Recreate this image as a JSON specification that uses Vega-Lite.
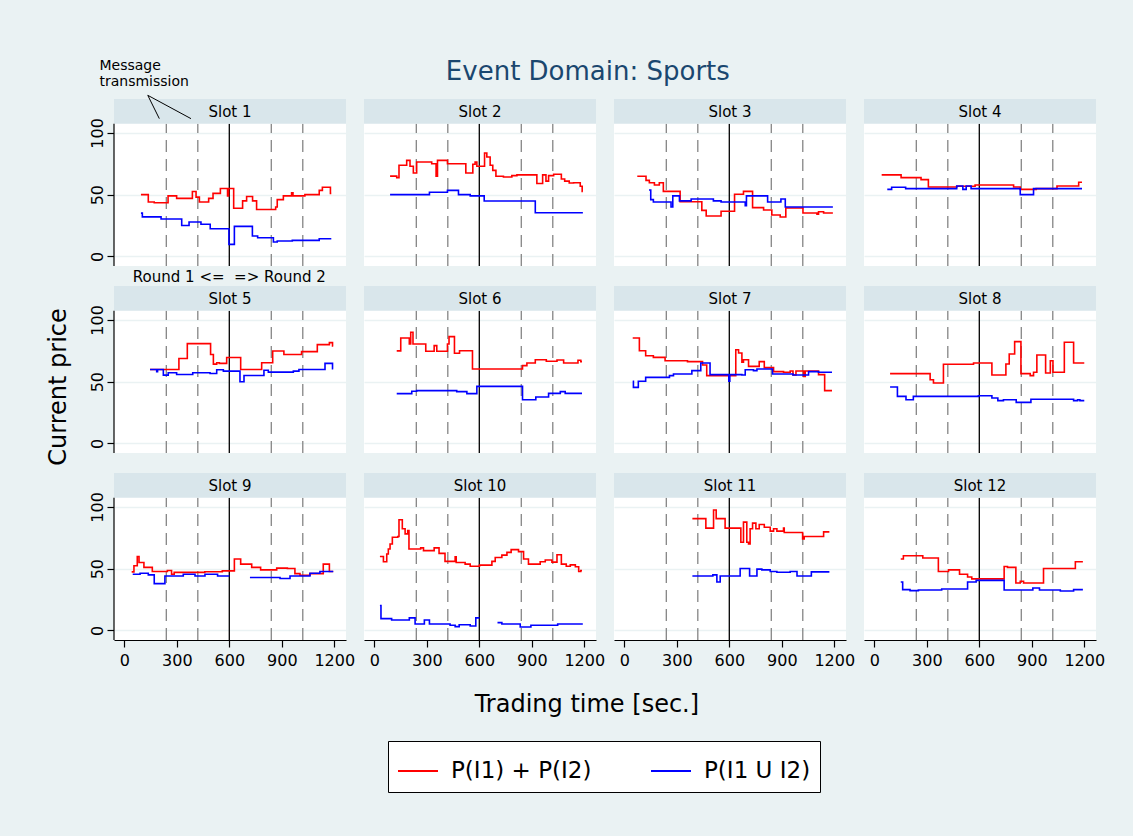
{
  "$schema": "https://vega.github.io/schema/vega-lite/v6.json",
  "background": "#EAF2F3",
  "padding": {"left": 47, "top": 58, "right": 40, "bottom": 48},
  "bounds": "flush",
  "title": {"text": "Event Domain: Sports", "fontSize": 26, "font": "DejaVu Sans", "fontWeight": "normal", "color": "#1A476F", "anchor": "middle", "offset": -26, "dx": 12},
  "data": {"values": [
    {"slot":1,"vx":240,"kind":"msg"},{"slot":1,"vx":420,"kind":"msg"},{"slot":1,"vx":840,"kind":"msg"},{"slot":1,"vx":1020,"kind":"msg"},{"slot":1,"vx":600,"kind":"round"},
    {"slot":2,"vx":240,"kind":"msg"},{"slot":2,"vx":420,"kind":"msg"},{"slot":2,"vx":840,"kind":"msg"},{"slot":2,"vx":1020,"kind":"msg"},{"slot":2,"vx":600,"kind":"round"},
    {"slot":3,"vx":240,"kind":"msg"},{"slot":3,"vx":420,"kind":"msg"},{"slot":3,"vx":840,"kind":"msg"},{"slot":3,"vx":1020,"kind":"msg"},{"slot":3,"vx":600,"kind":"round"},
    {"slot":4,"vx":240,"kind":"msg"},{"slot":4,"vx":420,"kind":"msg"},{"slot":4,"vx":840,"kind":"msg"},{"slot":4,"vx":1020,"kind":"msg"},{"slot":4,"vx":600,"kind":"round"},
    {"slot":5,"vx":240,"kind":"msg"},{"slot":5,"vx":420,"kind":"msg"},{"slot":5,"vx":840,"kind":"msg"},{"slot":5,"vx":1020,"kind":"msg"},{"slot":5,"vx":600,"kind":"round"},
    {"slot":6,"vx":240,"kind":"msg"},{"slot":6,"vx":420,"kind":"msg"},{"slot":6,"vx":840,"kind":"msg"},{"slot":6,"vx":1020,"kind":"msg"},{"slot":6,"vx":600,"kind":"round"},
    {"slot":7,"vx":240,"kind":"msg"},{"slot":7,"vx":420,"kind":"msg"},{"slot":7,"vx":840,"kind":"msg"},{"slot":7,"vx":1020,"kind":"msg"},{"slot":7,"vx":600,"kind":"round"},
    {"slot":8,"vx":240,"kind":"msg"},{"slot":8,"vx":420,"kind":"msg"},{"slot":8,"vx":840,"kind":"msg"},{"slot":8,"vx":1020,"kind":"msg"},{"slot":8,"vx":600,"kind":"round"},
    {"slot":9,"vx":240,"kind":"msg"},{"slot":9,"vx":420,"kind":"msg"},{"slot":9,"vx":840,"kind":"msg"},{"slot":9,"vx":1020,"kind":"msg"},{"slot":9,"vx":600,"kind":"round"},
    {"slot":10,"vx":240,"kind":"msg"},{"slot":10,"vx":420,"kind":"msg"},{"slot":10,"vx":840,"kind":"msg"},{"slot":10,"vx":1020,"kind":"msg"},{"slot":10,"vx":600,"kind":"round"},
    {"slot":11,"vx":240,"kind":"msg"},{"slot":11,"vx":420,"kind":"msg"},{"slot":11,"vx":840,"kind":"msg"},{"slot":11,"vx":1020,"kind":"msg"},{"slot":11,"vx":600,"kind":"round"},
    {"slot":12,"vx":240,"kind":"msg"},{"slot":12,"vx":420,"kind":"msg"},{"slot":12,"vx":840,"kind":"msg"},{"slot":12,"vx":1020,"kind":"msg"},{"slot":12,"vx":600,"kind":"round"},

    {"slot":1,"series":"P(I1) + P(I2)","seg":1,"time":95,"price":50},{"slot":1,"series":"P(I1) + P(I2)","seg":1,"time":137,"price":44},{"slot":1,"series":"P(I1) + P(I2)","seg":1,"time":171,"price":43.5},{"slot":1,"series":"P(I1) + P(I2)","seg":1,"time":250,"price":49},{"slot":1,"series":"P(I1) + P(I2)","seg":1,"time":299,"price":47},{"slot":1,"series":"P(I1) + P(I2)","seg":1,"time":389,"price":52.5},{"slot":1,"series":"P(I1) + P(I2)","seg":1,"time":410,"price":48},{"slot":1,"series":"P(I1) + P(I2)","seg":1,"time":429,"price":44},{"slot":1,"series":"P(I1) + P(I2)","seg":1,"time":482,"price":47},{"slot":1,"series":"P(I1) + P(I2)","seg":1,"time":507,"price":51},{"slot":1,"series":"P(I1) + P(I2)","seg":1,"time":549,"price":55},{"slot":1,"series":"P(I1) + P(I2)","seg":1,"time":590,"price":49},{"slot":1,"series":"P(I1) + P(I2)","seg":1,"time":596,"price":55},{"slot":1,"series":"P(I1) + P(I2)","seg":1,"time":625,"price":39},{"slot":1,"series":"P(I1) + P(I2)","seg":1,"time":676,"price":45},{"slot":1,"series":"P(I1) + P(I2)","seg":1,"time":699,"price":48.5},{"slot":1,"series":"P(I1) + P(I2)","seg":1,"time":733,"price":45},{"slot":1,"series":"P(I1) + P(I2)","seg":1,"time":756,"price":38},{"slot":1,"series":"P(I1) + P(I2)","seg":1,"time":865,"price":40},{"slot":1,"series":"P(I1) + P(I2)","seg":1,"time":874,"price":46},{"slot":1,"series":"P(I1) + P(I2)","seg":1,"time":909,"price":49},{"slot":1,"series":"P(I1) + P(I2)","seg":1,"time":956,"price":51.5},{"slot":1,"series":"P(I1) + P(I2)","seg":1,"time":964,"price":49},{"slot":1,"series":"P(I1) + P(I2)","seg":1,"time":1032,"price":50},{"slot":1,"series":"P(I1) + P(I2)","seg":1,"time":1114,"price":53.5},{"slot":1,"series":"P(I1) + P(I2)","seg":1,"time":1132,"price":56},{"slot":1,"series":"P(I1) + P(I2)","seg":1,"time":1178,"price":51},{"slot":1,"series":"P(I1) + P(I2)","seg":1,"time":1183,"price":51},
    {"slot":1,"series":"P(I1 U I2)","seg":1,"time":95,"price":35},{"slot":1,"series":"P(I1 U I2)","seg":1,"time":103,"price":32},{"slot":1,"series":"P(I1 U I2)","seg":1,"time":210,"price":30.3},{"slot":1,"series":"P(I1 U I2)","seg":1,"time":328,"price":25},{"slot":1,"series":"P(I1 U I2)","seg":1,"time":370,"price":27.8},{"slot":1,"series":"P(I1 U I2)","seg":1,"time":438,"price":26},{"slot":1,"series":"P(I1 U I2)","seg":1,"time":491,"price":22.4},{"slot":1,"series":"P(I1 U I2)","seg":1,"time":598,"price":9.7},{"slot":1,"series":"P(I1 U I2)","seg":1,"time":629,"price":24.3},{"slot":1,"series":"P(I1 U I2)","seg":1,"time":732,"price":16.5},{"slot":1,"series":"P(I1 U I2)","seg":1,"time":762,"price":15.1},{"slot":1,"series":"P(I1 U I2)","seg":1,"time":852,"price":11.6},{"slot":1,"series":"P(I1 U I2)","seg":1,"time":874,"price":12.4},{"slot":1,"series":"P(I1 U I2)","seg":1,"time":960,"price":13},{"slot":1,"series":"P(I1 U I2)","seg":1,"time":1114,"price":14.3},{"slot":1,"series":"P(I1 U I2)","seg":1,"time":1183,"price":14.3},

    {"slot":2,"series":"P(I1) + P(I2)","seg":1,"time":90,"price":65},{"slot":2,"series":"P(I1) + P(I2)","seg":1,"time":128,"price":63.8},{"slot":2,"series":"P(I1) + P(I2)","seg":1,"time":141,"price":73.8},{"slot":2,"series":"P(I1) + P(I2)","seg":1,"time":185,"price":77.8},{"slot":2,"series":"P(I1) + P(I2)","seg":1,"time":204,"price":73},{"slot":2,"series":"P(I1) + P(I2)","seg":1,"time":223,"price":67.6},{"slot":2,"series":"P(I1) + P(I2)","seg":1,"time":242,"price":76.5},{"slot":2,"series":"P(I1) + P(I2)","seg":1,"time":328,"price":75},{"slot":2,"series":"P(I1) + P(I2)","seg":1,"time":353,"price":65},{"slot":2,"series":"P(I1) + P(I2)","seg":1,"time":361,"price":77.8},{"slot":2,"series":"P(I1) + P(I2)","seg":1,"time":418,"price":75.1},{"slot":2,"series":"P(I1) + P(I2)","seg":1,"time":523,"price":67.6},{"slot":2,"series":"P(I1) + P(I2)","seg":1,"time":563,"price":74.6},{"slot":2,"series":"P(I1) + P(I2)","seg":1,"time":576,"price":76.5},{"slot":2,"series":"P(I1) + P(I2)","seg":1,"time":586,"price":73},{"slot":2,"series":"P(I1) + P(I2)","seg":1,"time":630,"price":83.8},{"slot":2,"series":"P(I1) + P(I2)","seg":1,"time":643,"price":80.5},{"slot":2,"series":"P(I1) + P(I2)","seg":1,"time":662,"price":73.8},{"slot":2,"series":"P(I1) + P(I2)","seg":1,"time":677,"price":69.7},{"slot":2,"series":"P(I1) + P(I2)","seg":1,"time":695,"price":64.9},{"slot":2,"series":"P(I1) + P(I2)","seg":1,"time":738,"price":64.3},{"slot":2,"series":"P(I1) + P(I2)","seg":1,"time":786,"price":65.4},{"slot":2,"series":"P(I1) + P(I2)","seg":1,"time":815,"price":66},{"slot":2,"series":"P(I1) + P(I2)","seg":1,"time":929,"price":59},{"slot":2,"series":"P(I1) + P(I2)","seg":1,"time":962,"price":66},{"slot":2,"series":"P(I1) + P(I2)","seg":1,"time":981,"price":61},{"slot":2,"series":"P(I1) + P(I2)","seg":1,"time":996,"price":65.4},{"slot":2,"series":"P(I1) + P(I2)","seg":1,"time":1025,"price":66.5},{"slot":2,"series":"P(I1) + P(I2)","seg":1,"time":1069,"price":62.7},{"slot":2,"series":"P(I1) + P(I2)","seg":1,"time":1088,"price":61},{"slot":2,"series":"P(I1) + P(I2)","seg":1,"time":1114,"price":59.5},{"slot":2,"series":"P(I1) + P(I2)","seg":1,"time":1139,"price":59.7},{"slot":2,"series":"P(I1) + P(I2)","seg":1,"time":1177,"price":56.8},{"slot":2,"series":"P(I1) + P(I2)","seg":1,"time":1188,"price":52.7},{"slot":2,"series":"P(I1) + P(I2)","seg":1,"time":1192,"price":52.7},
    {"slot":2,"series":"P(I1 U I2)","seg":1,"time":90,"price":50},{"slot":2,"series":"P(I1 U I2)","seg":1,"time":315,"price":51.9},{"slot":2,"series":"P(I1 U I2)","seg":1,"time":418,"price":53.5},{"slot":2,"series":"P(I1 U I2)","seg":1,"time":481,"price":50},{"slot":2,"series":"P(I1 U I2)","seg":1,"time":548,"price":49},{"slot":2,"series":"P(I1 U I2)","seg":1,"time":628,"price":44.9},{"slot":2,"series":"P(I1 U I2)","seg":1,"time":920,"price":35.4},{"slot":2,"series":"P(I1 U I2)","seg":1,"time":1192,"price":35.4},

    {"slot":3,"series":"P(I1) + P(I2)","seg":1,"time":74,"price":64.9},{"slot":3,"series":"P(I1) + P(I2)","seg":1,"time":124,"price":61.6},{"slot":3,"series":"P(I1) + P(I2)","seg":1,"time":143,"price":59.7},{"slot":3,"series":"P(I1) + P(I2)","seg":1,"time":172,"price":57.8},{"slot":3,"series":"P(I1) + P(I2)","seg":1,"time":200,"price":59.7},{"slot":3,"series":"P(I1) + P(I2)","seg":1,"time":223,"price":52.7},{"slot":3,"series":"P(I1) + P(I2)","seg":1,"time":319,"price":44.3},{"slot":3,"series":"P(I1) + P(I2)","seg":1,"time":443,"price":37.3},{"slot":3,"series":"P(I1) + P(I2)","seg":1,"time":468,"price":32.7},{"slot":3,"series":"P(I1) + P(I2)","seg":1,"time":553,"price":36.5},{"slot":3,"series":"P(I1) + P(I2)","seg":1,"time":630,"price":50.3},{"slot":3,"series":"P(I1) + P(I2)","seg":1,"time":681,"price":52.7},{"slot":3,"series":"P(I1) + P(I2)","seg":1,"time":733,"price":39.5},{"slot":3,"series":"P(I1) + P(I2)","seg":1,"time":796,"price":37.6},{"slot":3,"series":"P(I1) + P(I2)","seg":1,"time":843,"price":33.5},{"slot":3,"series":"P(I1) + P(I2)","seg":1,"time":891,"price":31.9},{"slot":3,"series":"P(I1) + P(I2)","seg":1,"time":923,"price":39.2},{"slot":3,"series":"P(I1) + P(I2)","seg":1,"time":1021,"price":35.1},{"slot":3,"series":"P(I1) + P(I2)","seg":1,"time":1101,"price":34.1},{"slot":3,"series":"P(I1) + P(I2)","seg":1,"time":1110,"price":36.2},{"slot":3,"series":"P(I1) + P(I2)","seg":1,"time":1139,"price":35.1},{"slot":3,"series":"P(I1) + P(I2)","seg":1,"time":1192,"price":35.1},
    {"slot":3,"series":"P(I1 U I2)","seg":1,"time":141,"price":53.8},{"slot":3,"series":"P(I1 U I2)","seg":1,"time":151,"price":46},{"slot":3,"series":"P(I1 U I2)","seg":1,"time":166,"price":44},{"slot":3,"series":"P(I1 U I2)","seg":1,"time":267,"price":40},{"slot":3,"series":"P(I1 U I2)","seg":1,"time":277,"price":49},{"slot":3,"series":"P(I1 U I2)","seg":1,"time":315,"price":45},{"slot":3,"series":"P(I1 U I2)","seg":1,"time":382,"price":46.5},{"slot":3,"series":"P(I1 U I2)","seg":1,"time":509,"price":45},{"slot":3,"series":"P(I1 U I2)","seg":1,"time":553,"price":44},{"slot":3,"series":"P(I1 U I2)","seg":1,"time":691,"price":41},{"slot":3,"series":"P(I1 U I2)","seg":1,"time":698,"price":49},{"slot":3,"series":"P(I1 U I2)","seg":1,"time":819,"price":44},{"slot":3,"series":"P(I1 U I2)","seg":1,"time":895,"price":46.5},{"slot":3,"series":"P(I1 U I2)","seg":1,"time":920,"price":40},{"slot":3,"series":"P(I1 U I2)","seg":1,"time":1192,"price":40},

    {"slot":4,"series":"P(I1) + P(I2)","seg":1,"time":42,"price":66},{"slot":4,"series":"P(I1) + P(I2)","seg":1,"time":153,"price":63.8},{"slot":4,"series":"P(I1) + P(I2)","seg":1,"time":267,"price":62.2},{"slot":4,"series":"P(I1) + P(I2)","seg":1,"time":309,"price":56.2},{"slot":4,"series":"P(I1) + P(I2)","seg":1,"time":471,"price":56.8},{"slot":4,"series":"P(I1) + P(I2)","seg":1,"time":576,"price":57.8},{"slot":4,"series":"P(I1) + P(I2)","seg":1,"time":796,"price":56.2},{"slot":4,"series":"P(I1) + P(I2)","seg":1,"time":834,"price":54.3},{"slot":4,"series":"P(I1) + P(I2)","seg":1,"time":925,"price":54.9},{"slot":4,"series":"P(I1) + P(I2)","seg":1,"time":1044,"price":57},{"slot":4,"series":"P(I1) + P(I2)","seg":1,"time":1168,"price":60},{"slot":4,"series":"P(I1) + P(I2)","seg":1,"time":1187,"price":60},
    {"slot":4,"series":"P(I1 U I2)","seg":1,"time":74,"price":54.3},{"slot":4,"series":"P(I1 U I2)","seg":1,"time":99,"price":56},{"slot":4,"series":"P(I1 U I2)","seg":1,"time":179,"price":54.9},{"slot":4,"series":"P(I1 U I2)","seg":1,"time":471,"price":57},{"slot":4,"series":"P(I1 U I2)","seg":1,"time":506,"price":54.3},{"slot":4,"series":"P(I1 U I2)","seg":1,"time":525,"price":57},{"slot":4,"series":"P(I1 U I2)","seg":1,"time":553,"price":54.9},{"slot":4,"series":"P(I1 U I2)","seg":1,"time":834,"price":50},{"slot":4,"series":"P(I1 U I2)","seg":1,"time":910,"price":54.9},{"slot":4,"series":"P(I1 U I2)","seg":1,"time":1187,"price":54.9},

    {"slot":5,"series":"P(I1) + P(I2)","seg":1,"time":147,"price":59.9},{"slot":5,"series":"P(I1) + P(I2)","seg":1,"time":312,"price":68.8},{"slot":5,"series":"P(I1) + P(I2)","seg":1,"time":360,"price":80.8},{"slot":5,"series":"P(I1) + P(I2)","seg":1,"time":493,"price":72},{"slot":5,"series":"P(I1) + P(I2)","seg":1,"time":509,"price":64.2},{"slot":5,"series":"P(I1) + P(I2)","seg":1,"time":528,"price":65.3},{"slot":5,"series":"P(I1) + P(I2)","seg":1,"time":543,"price":64.8},{"slot":5,"series":"P(I1) + P(I2)","seg":1,"time":585,"price":69.6},{"slot":5,"series":"P(I1) + P(I2)","seg":1,"time":665,"price":59.9},{"slot":5,"series":"P(I1) + P(I2)","seg":1,"time":785,"price":65.3},{"slot":5,"series":"P(I1) + P(I2)","seg":1,"time":848,"price":74.8},{"slot":5,"series":"P(I1) + P(I2)","seg":1,"time":912,"price":72},{"slot":5,"series":"P(I1) + P(I2)","seg":1,"time":1013,"price":74.3},{"slot":5,"series":"P(I1) + P(I2)","seg":1,"time":1103,"price":80},{"slot":5,"series":"P(I1) + P(I2)","seg":1,"time":1172,"price":81.6},{"slot":5,"series":"P(I1) + P(I2)","seg":1,"time":1190,"price":78.9},{"slot":5,"series":"P(I1) + P(I2)","seg":1,"time":1194,"price":78.9},
    {"slot":5,"series":"P(I1 U I2)","seg":1,"time":147,"price":59.9},{"slot":5,"series":"P(I1 U I2)","seg":1,"time":185,"price":58},{"slot":5,"series":"P(I1 U I2)","seg":1,"time":190,"price":59.9},{"slot":5,"series":"P(I1 U I2)","seg":1,"time":223,"price":55.3},{"slot":5,"series":"P(I1 U I2)","seg":1,"time":251,"price":57.2},{"slot":5,"series":"P(I1 U I2)","seg":1,"time":299,"price":55.8},{"slot":5,"series":"P(I1 U I2)","seg":1,"time":391,"price":57.2},{"slot":5,"series":"P(I1 U I2)","seg":1,"time":490,"price":56.6},{"slot":5,"series":"P(I1 U I2)","seg":1,"time":528,"price":59.6},{"slot":5,"series":"P(I1 U I2)","seg":1,"time":566,"price":58.5},{"slot":5,"series":"P(I1 U I2)","seg":1,"time":661,"price":49.9},{"slot":5,"series":"P(I1 U I2)","seg":1,"time":684,"price":55},{"slot":5,"series":"P(I1 U I2)","seg":1,"time":798,"price":59.3},{"slot":5,"series":"P(I1 U I2)","seg":1,"time":823,"price":57.7},{"slot":5,"series":"P(I1 U I2)","seg":1,"time":966,"price":58.5},{"slot":5,"series":"P(I1 U I2)","seg":1,"time":998,"price":59.9},{"slot":5,"series":"P(I1 U I2)","seg":1,"time":1147,"price":64.8},{"slot":5,"series":"P(I1 U I2)","seg":1,"time":1190,"price":60.4},{"slot":5,"series":"P(I1 U I2)","seg":1,"time":1194,"price":60.4},

    {"slot":6,"series":"P(I1) + P(I2)","seg":1,"time":128,"price":74.9},{"slot":6,"series":"P(I1) + P(I2)","seg":1,"time":151,"price":85.4},{"slot":6,"series":"P(I1) + P(I2)","seg":1,"time":200,"price":80.5},{"slot":6,"series":"P(I1) + P(I2)","seg":1,"time":208,"price":90},{"slot":6,"series":"P(I1) + P(I2)","seg":1,"time":221,"price":80.5},{"slot":6,"series":"P(I1) + P(I2)","seg":1,"time":294,"price":74.6},{"slot":6,"series":"P(I1) + P(I2)","seg":1,"time":342,"price":79.2},{"slot":6,"series":"P(I1) + P(I2)","seg":1,"time":357,"price":74.6},{"slot":6,"series":"P(I1) + P(I2)","seg":1,"time":418,"price":80.5},{"slot":6,"series":"P(I1) + P(I2)","seg":1,"time":427,"price":86.5},{"slot":6,"series":"P(I1) + P(I2)","seg":1,"time":458,"price":73},{"slot":6,"series":"P(I1) + P(I2)","seg":1,"time":487,"price":75.1},{"slot":6,"series":"P(I1) + P(I2)","seg":1,"time":561,"price":60.3},{"slot":6,"series":"P(I1) + P(I2)","seg":1,"time":847,"price":63},{"slot":6,"series":"P(I1) + P(I2)","seg":1,"time":872,"price":65.1},{"slot":6,"series":"P(I1) + P(I2)","seg":1,"time":920,"price":67.8},{"slot":6,"series":"P(I1) + P(I2)","seg":1,"time":983,"price":66.5},{"slot":6,"series":"P(I1) + P(I2)","seg":1,"time":1044,"price":67.6},{"slot":6,"series":"P(I1) + P(I2)","seg":1,"time":1082,"price":65.1},{"slot":6,"series":"P(I1) + P(I2)","seg":1,"time":1164,"price":67.3},{"slot":6,"series":"P(I1) + P(I2)","seg":1,"time":1180,"price":66.2},{"slot":6,"series":"P(I1) + P(I2)","seg":1,"time":1187,"price":66.2},
    {"slot":6,"series":"P(I1 U I2)","seg":1,"time":128,"price":40.3},{"slot":6,"series":"P(I1 U I2)","seg":1,"time":214,"price":42.2},{"slot":6,"series":"P(I1 U I2)","seg":1,"time":242,"price":42.7},{"slot":6,"series":"P(I1 U I2)","seg":1,"time":471,"price":41.9},{"slot":6,"series":"P(I1 U I2)","seg":1,"time":529,"price":40.3},{"slot":6,"series":"P(I1 U I2)","seg":1,"time":586,"price":46.2},{"slot":6,"series":"P(I1 U I2)","seg":1,"time":847,"price":35.4},{"slot":6,"series":"P(I1 U I2)","seg":1,"time":923,"price":37.6},{"slot":6,"series":"P(I1 U I2)","seg":1,"time":996,"price":40.5},{"slot":6,"series":"P(I1 U I2)","seg":1,"time":1063,"price":41.9},{"slot":6,"series":"P(I1 U I2)","seg":1,"time":1091,"price":40.5},{"slot":6,"series":"P(I1 U I2)","seg":1,"time":1187,"price":40.5},

    {"slot":7,"series":"P(I1) + P(I2)","seg":1,"time":48,"price":85.4},{"slot":7,"series":"P(I1) + P(I2)","seg":1,"time":86,"price":75.1},{"slot":7,"series":"P(I1) + P(I2)","seg":1,"time":122,"price":71},{"slot":7,"series":"P(I1) + P(I2)","seg":1,"time":166,"price":69.7},{"slot":7,"series":"P(I1) + P(I2)","seg":1,"time":233,"price":67},{"slot":7,"series":"P(I1) + P(I2)","seg":1,"time":361,"price":66.2},{"slot":7,"series":"P(I1) + P(I2)","seg":1,"time":447,"price":63.5},{"slot":7,"series":"P(I1) + P(I2)","seg":1,"time":471,"price":54.9},{"slot":7,"series":"P(I1) + P(I2)","seg":1,"time":637,"price":75.9},{"slot":7,"series":"P(I1) + P(I2)","seg":1,"time":653,"price":73.2},{"slot":7,"series":"P(I1) + P(I2)","seg":1,"time":672,"price":65.7},{"slot":7,"series":"P(I1) + P(I2)","seg":1,"time":681,"price":67.8},{"slot":7,"series":"P(I1) + P(I2)","seg":1,"time":710,"price":62.4},{"slot":7,"series":"P(I1) + P(I2)","seg":1,"time":771,"price":66.2},{"slot":7,"series":"P(I1) + P(I2)","seg":1,"time":800,"price":61.4},{"slot":7,"series":"P(I1) + P(I2)","seg":1,"time":853,"price":58.1},{"slot":7,"series":"P(I1) + P(I2)","seg":1,"time":910,"price":57.6},{"slot":7,"series":"P(I1) + P(I2)","seg":1,"time":948,"price":58.6},{"slot":7,"series":"P(I1) + P(I2)","seg":1,"time":964,"price":55.4},{"slot":7,"series":"P(I1) + P(I2)","seg":1,"time":981,"price":58.6},{"slot":7,"series":"P(I1) + P(I2)","seg":1,"time":1025,"price":54.3},{"slot":7,"series":"P(I1) + P(I2)","seg":1,"time":1034,"price":58.6},{"slot":7,"series":"P(I1) + P(I2)","seg":1,"time":1110,"price":55.7},{"slot":7,"series":"P(I1) + P(I2)","seg":1,"time":1145,"price":42.7},{"slot":7,"series":"P(I1) + P(I2)","seg":1,"time":1187,"price":42.7},
    {"slot":7,"series":"P(I1 U I2)","seg":1,"time":48,"price":50.3},{"slot":7,"series":"P(I1 U I2)","seg":1,"time":52,"price":45.4},{"slot":7,"series":"P(I1 U I2)","seg":1,"time":80,"price":50.3},{"slot":7,"series":"P(I1 U I2)","seg":1,"time":122,"price":53.5},{"slot":7,"series":"P(I1 U I2)","seg":1,"time":258,"price":54.9},{"slot":7,"series":"P(I1 U I2)","seg":1,"time":281,"price":56.2},{"slot":7,"series":"P(I1 U I2)","seg":1,"time":386,"price":58.9},{"slot":7,"series":"P(I1 U I2)","seg":1,"time":437,"price":65.1},{"slot":7,"series":"P(I1 U I2)","seg":1,"time":490,"price":55.7},{"slot":7,"series":"P(I1 U I2)","seg":1,"time":597,"price":50.3},{"slot":7,"series":"P(I1 U I2)","seg":1,"time":603,"price":55.7},{"slot":7,"series":"P(I1 U I2)","seg":1,"time":672,"price":55.4},{"slot":7,"series":"P(I1 U I2)","seg":1,"time":691,"price":59.7},{"slot":7,"series":"P(I1 U I2)","seg":1,"time":738,"price":58.9},{"slot":7,"series":"P(I1 U I2)","seg":1,"time":758,"price":60.3},{"slot":7,"series":"P(I1 U I2)","seg":1,"time":847,"price":56.2},{"slot":7,"series":"P(I1 U I2)","seg":1,"time":964,"price":55.4},{"slot":7,"series":"P(I1 U I2)","seg":1,"time":1053,"price":58.1},{"slot":7,"series":"P(I1 U I2)","seg":1,"time":1110,"price":57.6},{"slot":7,"series":"P(I1 U I2)","seg":1,"time":1187,"price":57.6},

    {"slot":8,"series":"P(I1) + P(I2)","seg":1,"time":90,"price":56.5},{"slot":8,"series":"P(I1) + P(I2)","seg":1,"time":319,"price":51.6},{"slot":8,"series":"P(I1) + P(I2)","seg":1,"time":338,"price":48.9},{"slot":8,"series":"P(I1) + P(I2)","seg":1,"time":395,"price":64.1},{"slot":8,"series":"P(I1) + P(I2)","seg":1,"time":567,"price":65.1},{"slot":8,"series":"P(I1) + P(I2)","seg":1,"time":672,"price":55.4},{"slot":8,"series":"P(I1) + P(I2)","seg":1,"time":752,"price":64.3},{"slot":8,"series":"P(I1) + P(I2)","seg":1,"time":771,"price":72.4},{"slot":8,"series":"P(I1) + P(I2)","seg":1,"time":802,"price":82.4},{"slot":8,"series":"P(I1) + P(I2)","seg":1,"time":838,"price":56.5},{"slot":8,"series":"P(I1) + P(I2)","seg":1,"time":891,"price":54.9},{"slot":8,"series":"P(I1) + P(I2)","seg":1,"time":910,"price":57.6},{"slot":8,"series":"P(I1) + P(I2)","seg":1,"time":929,"price":71.6},{"slot":8,"series":"P(I1) + P(I2)","seg":1,"time":979,"price":57},{"slot":8,"series":"P(I1) + P(I2)","seg":1,"time":1006,"price":67},{"slot":8,"series":"P(I1) + P(I2)","seg":1,"time":1021,"price":57.6},{"slot":8,"series":"P(I1) + P(I2)","seg":1,"time":1086,"price":81.9},{"slot":8,"series":"P(I1) + P(I2)","seg":1,"time":1139,"price":65.1},{"slot":8,"series":"P(I1) + P(I2)","seg":1,"time":1200,"price":65.1},
    {"slot":8,"series":"P(I1 U I2)","seg":1,"time":90,"price":45.7},{"slot":8,"series":"P(I1 U I2)","seg":1,"time":132,"price":38.1},{"slot":8,"series":"P(I1 U I2)","seg":1,"time":181,"price":35.4},{"slot":8,"series":"P(I1 U I2)","seg":1,"time":223,"price":38.1},{"slot":8,"series":"P(I1 U I2)","seg":1,"time":595,"price":38.6},{"slot":8,"series":"P(I1 U I2)","seg":1,"time":672,"price":36.8},{"slot":8,"series":"P(I1 U I2)","seg":1,"time":706,"price":34.6},{"slot":8,"series":"P(I1 U I2)","seg":1,"time":738,"price":35.4},{"slot":8,"series":"P(I1 U I2)","seg":1,"time":811,"price":33.2},{"slot":8,"series":"P(I1 U I2)","seg":1,"time":895,"price":35.7},{"slot":8,"series":"P(I1 U I2)","seg":1,"time":1139,"price":34.6},{"slot":8,"series":"P(I1 U I2)","seg":1,"time":1162,"price":35.4},{"slot":8,"series":"P(I1 U I2)","seg":1,"time":1175,"price":34.6},{"slot":8,"series":"P(I1 U I2)","seg":1,"time":1200,"price":34.6},

    {"slot":9,"series":"P(I1) + P(I2)","seg":1,"time":42,"price":47.4},{"slot":9,"series":"P(I1) + P(I2)","seg":1,"time":55,"price":52.3},{"slot":9,"series":"P(I1) + P(I2)","seg":1,"time":74,"price":59.9},{"slot":9,"series":"P(I1) + P(I2)","seg":1,"time":84,"price":55},{"slot":9,"series":"P(I1) + P(I2)","seg":1,"time":112,"price":51},{"slot":9,"series":"P(I1) + P(I2)","seg":1,"time":160,"price":47.7},{"slot":9,"series":"P(I1) + P(I2)","seg":1,"time":246,"price":48.5},{"slot":9,"series":"P(I1) + P(I2)","seg":1,"time":270,"price":45.5},{"slot":9,"series":"P(I1) + P(I2)","seg":1,"time":285,"price":47},{"slot":9,"series":"P(I1) + P(I2)","seg":1,"time":460,"price":47.5},{"slot":9,"series":"P(I1) + P(I2)","seg":1,"time":560,"price":48.2},{"slot":9,"series":"P(I1) + P(I2)","seg":1,"time":629,"price":57.8},{"slot":9,"series":"P(I1) + P(I2)","seg":1,"time":665,"price":53.7},{"slot":9,"series":"P(I1) + P(I2)","seg":1,"time":728,"price":51},{"slot":9,"series":"P(I1) + P(I2)","seg":1,"time":779,"price":49},{"slot":9,"series":"P(I1) + P(I2)","seg":1,"time":871,"price":50.4},{"slot":9,"series":"P(I1) + P(I2)","seg":1,"time":932,"price":50.1},{"slot":9,"series":"P(I1) + P(I2)","seg":1,"time":975,"price":46},{"slot":9,"series":"P(I1) + P(I2)","seg":1,"time":1004,"price":44.7},{"slot":9,"series":"P(I1) + P(I2)","seg":1,"time":1061,"price":46},{"slot":9,"series":"P(I1) + P(I2)","seg":1,"time":1137,"price":53.7},{"slot":9,"series":"P(I1) + P(I2)","seg":1,"time":1172,"price":47.7},{"slot":9,"series":"P(I1) + P(I2)","seg":1,"time":1194,"price":47.7},
    {"slot":9,"series":"P(I1 U I2)","seg":1,"time":48,"price":45.5},{"slot":9,"series":"P(I1 U I2)","seg":1,"time":90,"price":46.3},{"slot":9,"series":"P(I1 U I2)","seg":1,"time":137,"price":45},{"slot":9,"series":"P(I1 U I2)","seg":1,"time":171,"price":37.9},{"slot":9,"series":"P(I1 U I2)","seg":1,"time":232,"price":44.1},{"slot":9,"series":"P(I1 U I2)","seg":1,"time":337,"price":45.5},{"slot":9,"series":"P(I1 U I2)","seg":1,"time":404,"price":44.1},{"slot":9,"series":"P(I1 U I2)","seg":1,"time":461,"price":45.5},{"slot":9,"series":"P(I1 U I2)","seg":1,"time":533,"price":44.1},{"slot":9,"series":"P(I1 U I2)","seg":1,"time":600,"price":44.1},
    {"slot":9,"series":"P(I1 U I2)","seg":2,"time":718,"price":42.8},{"slot":9,"series":"P(I1 U I2)","seg":2,"time":890,"price":42},{"slot":9,"series":"P(I1 U I2)","seg":2,"time":947,"price":44.1},{"slot":9,"series":"P(I1 U I2)","seg":2,"time":1061,"price":46.3},{"slot":9,"series":"P(I1 U I2)","seg":2,"time":1118,"price":47.7},{"slot":9,"series":"P(I1 U I2)","seg":2,"time":1194,"price":47.7},

    {"slot":10,"series":"P(I1) + P(I2)","seg":1,"time":32,"price":59.9},{"slot":10,"series":"P(I1) + P(I2)","seg":1,"time":52,"price":55.6},{"slot":10,"series":"P(I1) + P(I2)","seg":1,"time":71,"price":61.9},{"slot":10,"series":"P(I1) + P(I2)","seg":1,"time":80,"price":65.9},{"slot":10,"series":"P(I1) + P(I2)","seg":1,"time":90,"price":70},{"slot":10,"series":"P(I1) + P(I2)","seg":1,"time":103,"price":75.5},{"slot":10,"series":"P(I1) + P(I2)","seg":1,"time":134,"price":76},{"slot":10,"series":"P(I1) + P(I2)","seg":1,"time":141,"price":89.6},{"slot":10,"series":"P(I1) + P(I2)","seg":1,"time":160,"price":82.3},{"slot":10,"series":"P(I1) + P(I2)","seg":1,"time":176,"price":78.2},{"slot":10,"series":"P(I1) + P(I2)","seg":1,"time":191,"price":80.9},{"slot":10,"series":"P(I1) + P(I2)","seg":1,"time":198,"price":65.9},{"slot":10,"series":"P(I1) + P(I2)","seg":1,"time":265,"price":66.8},{"slot":10,"series":"P(I1) + P(I2)","seg":1,"time":281,"price":64.6},{"slot":10,"series":"P(I1) + P(I2)","seg":1,"time":342,"price":66.8},{"slot":10,"series":"P(I1) + P(I2)","seg":1,"time":370,"price":62.4},{"slot":10,"series":"P(I1) + P(I2)","seg":1,"time":404,"price":55.9},{"slot":10,"series":"P(I1) + P(I2)","seg":1,"time":462,"price":59.7},{"slot":10,"series":"P(I1) + P(I2)","seg":1,"time":468,"price":55},{"slot":10,"series":"P(I1) + P(I2)","seg":1,"time":519,"price":53.7},{"slot":10,"series":"P(I1) + P(I2)","seg":1,"time":548,"price":52},{"slot":10,"series":"P(I1) + P(I2)","seg":1,"time":601,"price":52.9},{"slot":10,"series":"P(I1) + P(I2)","seg":1,"time":672,"price":55.9},{"slot":10,"series":"P(I1) + P(I2)","seg":1,"time":691,"price":59.1},{"slot":10,"series":"P(I1) + P(I2)","seg":1,"time":729,"price":61},{"slot":10,"series":"P(I1) + P(I2)","seg":1,"time":758,"price":63.2},{"slot":10,"series":"P(I1) + P(I2)","seg":1,"time":782,"price":65.4},{"slot":10,"series":"P(I1) + P(I2)","seg":1,"time":824,"price":63.8},{"slot":10,"series":"P(I1) + P(I2)","seg":1,"time":853,"price":57.8},{"slot":10,"series":"P(I1) + P(I2)","seg":1,"time":881,"price":53.7},{"slot":10,"series":"P(I1) + P(I2)","seg":1,"time":948,"price":55.6},{"slot":10,"series":"P(I1) + P(I2)","seg":1,"time":977,"price":57},{"slot":10,"series":"P(I1) + P(I2)","seg":1,"time":1015,"price":55.3},{"slot":10,"series":"P(I1) + P(I2)","seg":1,"time":1044,"price":61.3},{"slot":10,"series":"P(I1) + P(I2)","seg":1,"time":1069,"price":53.7},{"slot":10,"series":"P(I1) + P(I2)","seg":1,"time":1097,"price":52},{"slot":10,"series":"P(I1) + P(I2)","seg":1,"time":1120,"price":53.1},{"slot":10,"series":"P(I1) + P(I2)","seg":1,"time":1149,"price":51.5},{"slot":10,"series":"P(I1) + P(I2)","seg":1,"time":1168,"price":47.7},{"slot":10,"series":"P(I1) + P(I2)","seg":1,"time":1180,"price":48.5},{"slot":10,"series":"P(I1) + P(I2)","seg":1,"time":1187,"price":48.5},
    {"slot":10,"series":"P(I1 U I2)","seg":1,"time":32,"price":20.2},{"slot":10,"series":"P(I1 U I2)","seg":1,"time":38,"price":9.5},{"slot":10,"series":"P(I1 U I2)","seg":1,"time":99,"price":8.4},{"slot":10,"series":"P(I1 U I2)","seg":1,"time":200,"price":10.1},{"slot":10,"series":"P(I1 U I2)","seg":1,"time":233,"price":5.2},{"slot":10,"series":"P(I1 U I2)","seg":1,"time":286,"price":8.4},{"slot":10,"series":"P(I1 U I2)","seg":1,"time":315,"price":5.2},{"slot":10,"series":"P(I1 U I2)","seg":1,"time":433,"price":4.1},{"slot":10,"series":"P(I1 U I2)","seg":1,"time":462,"price":3},{"slot":10,"series":"P(I1 U I2)","seg":1,"time":485,"price":4.6},{"slot":10,"series":"P(I1 U I2)","seg":1,"time":548,"price":3.5},{"slot":10,"series":"P(I1 U I2)","seg":1,"time":580,"price":10.1},{"slot":10,"series":"P(I1 U I2)","seg":1,"time":601,"price":10.1},
    {"slot":10,"series":"P(I1 U I2)","seg":2,"time":704,"price":6.3},{"slot":10,"series":"P(I1 U I2)","seg":2,"time":729,"price":5.2},{"slot":10,"series":"P(I1 U I2)","seg":2,"time":834,"price":2.7},{"slot":10,"series":"P(I1 U I2)","seg":2,"time":895,"price":4.1},{"slot":10,"series":"P(I1 U I2)","seg":2,"time":1048,"price":5.2},{"slot":10,"series":"P(I1 U I2)","seg":2,"time":1187,"price":4.5},

    {"slot":11,"series":"P(I1) + P(I2)","seg":1,"time":389,"price":90.5},{"slot":11,"series":"P(I1) + P(I2)","seg":1,"time":466,"price":82.8},{"slot":11,"series":"P(I1) + P(I2)","seg":1,"time":510,"price":97.5},{"slot":11,"series":"P(I1) + P(I2)","seg":1,"time":525,"price":90.5},{"slot":11,"series":"P(I1) + P(I2)","seg":1,"time":576,"price":82.8},{"slot":11,"series":"P(I1) + P(I2)","seg":1,"time":666,"price":71.4},{"slot":11,"series":"P(I1) + P(I2)","seg":1,"time":681,"price":87.7},{"slot":11,"series":"P(I1) + P(I2)","seg":1,"time":700,"price":71.4},{"slot":11,"series":"P(I1) + P(I2)","seg":1,"time":710,"price":70},{"slot":11,"series":"P(I1) + P(I2)","seg":1,"time":719,"price":82.3},{"slot":11,"series":"P(I1) + P(I2)","seg":1,"time":733,"price":86.9},{"slot":11,"series":"P(I1) + P(I2)","seg":1,"time":752,"price":82.3},{"slot":11,"series":"P(I1) + P(I2)","seg":1,"time":771,"price":85.8},{"slot":11,"series":"P(I1) + P(I2)","seg":1,"time":800,"price":83.6},{"slot":11,"series":"P(I1) + P(I2)","seg":1,"time":834,"price":80.4},{"slot":11,"series":"P(I1) + P(I2)","seg":1,"time":853,"price":82.3},{"slot":11,"series":"P(I1) + P(I2)","seg":1,"time":872,"price":80.4},{"slot":11,"series":"P(I1) + P(I2)","seg":1,"time":910,"price":82.8},{"slot":11,"series":"P(I1) + P(I2)","seg":1,"time":914,"price":79.3},{"slot":11,"series":"P(I1) + P(I2)","seg":1,"time":1019,"price":74.1},{"slot":11,"series":"P(I1) + P(I2)","seg":1,"time":1028,"price":76},{"slot":11,"series":"P(I1) + P(I2)","seg":1,"time":1139,"price":79.8},{"slot":11,"series":"P(I1) + P(I2)","seg":1,"time":1172,"price":79.8},
    {"slot":11,"series":"P(I1 U I2)","seg":1,"time":389,"price":44.1},{"slot":11,"series":"P(I1 U I2)","seg":1,"time":506,"price":45},{"slot":11,"series":"P(I1 U I2)","seg":1,"time":529,"price":39.2},{"slot":11,"series":"P(I1 U I2)","seg":1,"time":548,"price":44.1},{"slot":11,"series":"P(I1 U I2)","seg":1,"time":662,"price":50.1},{"slot":11,"series":"P(I1 U I2)","seg":1,"time":716,"price":44.1},{"slot":11,"series":"P(I1 U I2)","seg":1,"time":758,"price":49.6},{"slot":11,"series":"P(I1 U I2)","seg":1,"time":786,"price":49},{"slot":11,"series":"P(I1 U I2)","seg":1,"time":834,"price":47.7},{"slot":11,"series":"P(I1 U I2)","seg":1,"time":872,"price":47.1},{"slot":11,"series":"P(I1 U I2)","seg":1,"time":948,"price":47.7},{"slot":11,"series":"P(I1 U I2)","seg":1,"time":987,"price":44.1},{"slot":11,"series":"P(I1 U I2)","seg":1,"time":1069,"price":47.4},{"slot":11,"series":"P(I1 U I2)","seg":1,"time":1172,"price":47.4},

    {"slot":12,"series":"P(I1) + P(I2)","seg":1,"time":151,"price":57.8},{"slot":12,"series":"P(I1) + P(I2)","seg":1,"time":166,"price":60.5},{"slot":12,"series":"P(I1) + P(I2)","seg":1,"time":277,"price":58.6},{"slot":12,"series":"P(I1) + P(I2)","seg":1,"time":366,"price":47.7},{"slot":12,"series":"P(I1) + P(I2)","seg":1,"time":424,"price":49},{"slot":12,"series":"P(I1) + P(I2)","seg":1,"time":487,"price":45.5},{"slot":12,"series":"P(I1) + P(I2)","seg":1,"time":533,"price":43.3},{"slot":12,"series":"P(I1) + P(I2)","seg":1,"time":557,"price":41.7},{"slot":12,"series":"P(I1) + P(I2)","seg":1,"time":742,"price":51.8},{"slot":12,"series":"P(I1) + P(I2)","seg":1,"time":761,"price":51},{"slot":12,"series":"P(I1) + P(I2)","seg":1,"time":809,"price":38.4},{"slot":12,"series":"P(I1) + P(I2)","seg":1,"time":834,"price":39.8},{"slot":12,"series":"P(I1) + P(I2)","seg":1,"time":853,"price":38.4},{"slot":12,"series":"P(I1) + P(I2)","seg":1,"time":967,"price":50.1},{"slot":12,"series":"P(I1) + P(I2)","seg":1,"time":1149,"price":55.6},{"slot":12,"series":"P(I1) + P(I2)","seg":1,"time":1192,"price":55.6},
    {"slot":12,"series":"P(I1 U I2)","seg":1,"time":151,"price":39.2},{"slot":12,"series":"P(I1 U I2)","seg":1,"time":162,"price":33},{"slot":12,"series":"P(I1 U I2)","seg":1,"time":204,"price":32.2},{"slot":12,"series":"P(I1 U I2)","seg":1,"time":252,"price":32.7},{"slot":12,"series":"P(I1 U I2)","seg":1,"time":385,"price":33.5},{"slot":12,"series":"P(I1 U I2)","seg":1,"time":533,"price":39.2},{"slot":12,"series":"P(I1 U I2)","seg":1,"time":582,"price":40.5},{"slot":12,"series":"P(I1 U I2)","seg":1,"time":742,"price":32.7},{"slot":12,"series":"P(I1 U I2)","seg":1,"time":906,"price":34.3},{"slot":12,"series":"P(I1 U I2)","seg":1,"time":944,"price":32.7},{"slot":12,"series":"P(I1 U I2)","seg":1,"time":1063,"price":31.9},{"slot":12,"series":"P(I1 U I2)","seg":1,"time":1139,"price":33},{"slot":12,"series":"P(I1 U I2)","seg":1,"time":1192,"price":33}
  ]},
  "transform": [
    {"lookup": "slot", "from": {"data": {"values": [
      {"slot":1,"r":1,"c":1,"name":"Slot 1"},{"slot":2,"r":1,"c":2,"name":"Slot 2"},{"slot":3,"r":1,"c":3,"name":"Slot 3"},{"slot":4,"r":1,"c":4,"name":"Slot 4"},
      {"slot":5,"r":2,"c":1,"name":"Slot 5"},{"slot":6,"r":2,"c":2,"name":"Slot 6"},{"slot":7,"r":2,"c":3,"name":"Slot 7"},{"slot":8,"r":2,"c":4,"name":"Slot 8"},
      {"slot":9,"r":3,"c":1,"name":"Slot 9"},{"slot":10,"r":3,"c":2,"name":"Slot 10"},{"slot":11,"r":3,"c":3,"name":"Slot 11"},{"slot":12,"r":3,"c":4,"name":"Slot 12"}
    ]}, "key": "slot", "fields": ["r", "c", "name"]}}
  ],
  "facet": {
    "row": {"field": "r", "type": "ordinal", "header": {"title": null, "labels": false}},
    "column": {"field": "c", "type": "ordinal", "header": {"title": null, "labels": false}}
  },
  "spacing": {"row": 20, "column": 18},
  "spec": {
    "width": 232,
    "height": 167,
    "layer": [
      {
        "transform": [{"filter": "datum.kind == 'msg'"}],
        "mark": {"type": "rule", "color": "#858585", "strokeWidth": 1.3, "strokeDash": [12, 7]},
        "encoding": {
          "x": {"field": "vx", "type": "quantitative", "scale": {"domain": [-59, 1267], "nice": false, "zero": false}, "axis": {"values": [0, 300, 600, 900, 1200], "format": "d", "title": null, "grid": false}},
          "y": {"datum": -7.8, "type": "quantitative", "scale": {"domain": [-7.8, 127.5], "nice": false, "zero": false}, "axis": {"values": [0, 50, 100], "title": null}},
          "y2": {"datum": 107.5}
        }
      },
      {
        "transform": [{"filter": "datum.kind == 'round'"}],
        "mark": {"type": "rule", "color": "black", "strokeWidth": 1.3},
        "encoding": {
          "x": {"field": "vx", "type": "quantitative"},
          "y": {"datum": -7.8, "type": "quantitative"},
          "y2": {"datum": 107.5}
        }
      },
      {
        "transform": [{"filter": "isValid(datum.price)"}],
        "mark": {"type": "line", "interpolate": "step-after", "strokeWidth": 1.6},
        "encoding": {
          "x": {"field": "time", "type": "quantitative"},
          "y": {"field": "price", "type": "quantitative"},
          "detail": {"field": "seg", "type": "nominal"},
          "color": {"field": "series", "type": "nominal", "scale": {"domain": ["P(I1) + P(I2)", "P(I1 U I2)"], "range": ["#FF0000", "#0000FF"]}, "legend": {"title": null, "orient": "none", "legendX": 274, "legendY": 642}}
        }
      },
      {
        "transform": [{"filter": "datum.kind == 'round'"}],
        "mark": {"type": "rect", "fill": "#D9E6EB"},
        "encoding": {
          "x": {"datum": -59, "type": "quantitative"},
          "x2": {"datum": 1267},
          "y": {"datum": 107.5, "type": "quantitative"},
          "y2": {"datum": 127.5}
        }
      },
      {
        "transform": [{"filter": "datum.kind == 'round'"}],
        "mark": {"type": "text", "fontSize": 15, "color": "black", "baseline": "middle", "align": "center"},
        "encoding": {
          "x": {"datum": 604, "type": "quantitative"},
          "y": {"datum": 117.3, "type": "quantitative"},
          "text": {"field": "name"}
        }
      },
      {
        "transform": [{"filter": "datum.kind == 'round' && datum.c == 1"}],
        "mark": {"type": "rule", "color": "black", "strokeWidth": 1.2, "clip": false},
        "encoding": {
          "x": {"datum": -59, "type": "quantitative"},
          "y": {"datum": -7.8, "type": "quantitative"},
          "y2": {"datum": 107.5}
        }
      },
      {
        "transform": [{"filter": "datum.kind == 'round' && datum.slot == 5"}],
        "mark": {"type": "text", "fontSize": 24, "color": "black", "baseline": "middle", "align": "center", "angle": 270, "clip": false},
        "encoding": {
          "x": {"datum": -373, "type": "quantitative"},
          "y": {"datum": 45.7, "type": "quantitative"},
          "text": {"value": "Current price"}
        }
      },
      {
        "transform": [{"filter": "datum.kind == 'round' && datum.slot == 10"}],
        "mark": {"type": "text", "fontSize": 24, "color": "black", "baseline": "alphabetic", "align": "center", "clip": false},
        "encoding": {
          "x": {"datum": 1215, "type": "quantitative"},
          "y": {"datum": -66.2, "type": "quantitative"},
          "text": {"value": "Trading time [sec.]"}
        }
      },
      {
        "transform": [{"filter": "datum.kind == 'round' && datum.slot == 1"}],
        "mark": {"type": "text", "fontSize": 15, "color": "black", "baseline": "middle", "align": "center", "clip": false},
        "encoding": {
          "x": {"datum": 600, "type": "quantitative"},
          "y": {"datum": -16.5, "type": "quantitative"},
          "text": {"value": "Round 1 <=\u00a0 => Round 2"}
        }
      },
      {
        "transform": [{"filter": "datum.kind == 'round' && datum.slot == 1"}],
        "mark": {"type": "text", "fontSize": 14, "color": "black", "baseline": "alphabetic", "align": "left", "lineHeight": 16, "clip": false},
        "encoding": {
          "x": {"datum": -142, "type": "quantitative"},
          "y": {"datum": 151.3, "type": "quantitative"},
          "text": {"value": ["Message", "transmission"]}
        }
      },
      {
        "transform": [{"filter": "datum.kind == 'round' && datum.slot == 1"}],
        "mark": {"type": "rule", "color": "black", "strokeWidth": 1, "clip": false},
        "encoding": {
          "x": {"datum": 134, "type": "quantitative"},
          "y": {"datum": 130.5, "type": "quantitative"},
          "x2": {"datum": 200},
          "y2": {"datum": 111.6}
        }
      },
      {
        "transform": [{"filter": "datum.kind == 'round' && datum.slot == 1"}],
        "mark": {"type": "rule", "color": "black", "strokeWidth": 1, "clip": false},
        "encoding": {
          "x": {"datum": 134, "type": "quantitative"},
          "y": {"datum": 130.5, "type": "quantitative"},
          "x2": {"datum": 381},
          "y2": {"datum": 111.6}
        }
      }
    ]
  },
  "config": {
    "font": "DejaVu Sans",
    "view": {"fill": "white", "stroke": null},
    "axis": {"domainColor": "black", "tickColor": "black", "tickSize": 7, "tickWidth": 1.2, "domainWidth": 1.2, "labelFontSize": 16, "labelColor": "black", "labelPadding": 5, "gridColor": "#EAF2F3", "gridWidth": 1.3},
    "axisY": {"domain": false, "grid": true, "labelAngle": -90, "labelAlign": "center", "labelBaseline": "alphabetic"},
    "axisX": {"grid": false},
    "legend": {"direction": "horizontal", "symbolType": "stroke", "symbolStrokeWidth": 2, "symbolSize": 1600, "labelFontSize": 23, "labelColor": "black", "fillColor": "white", "strokeColor": "black", "padding": 9, "columnPadding": 55, "labelOffset": 12, "labelLimit": 400}
  }
}
